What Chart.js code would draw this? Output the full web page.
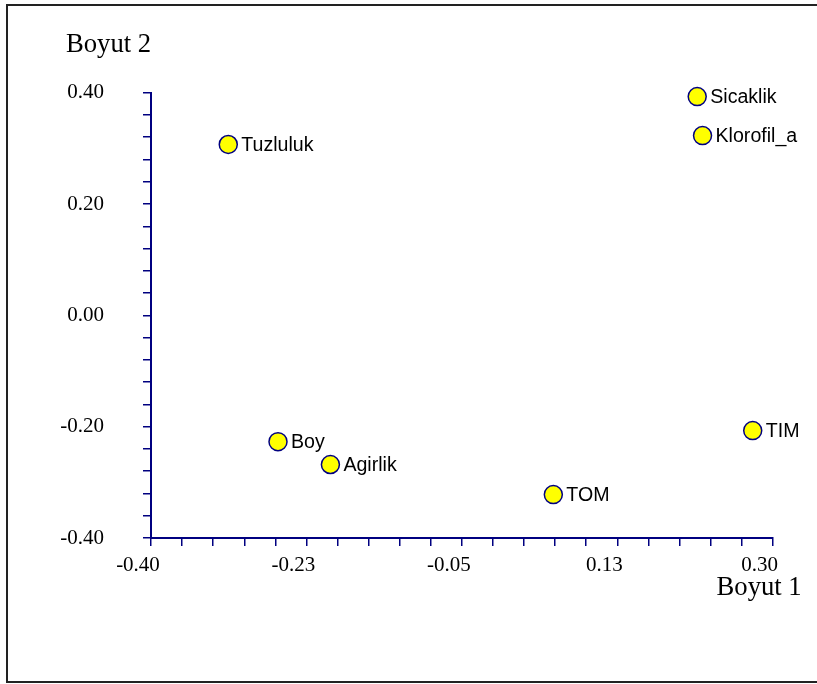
<!DOCTYPE html>
<html>
<head>
<meta charset="utf-8">
<script src="https://cdn.jsdelivr.net/npm/chart.js@4.4.1/dist/chart.umd.min.js"></script>
<style>
  html, body { margin: 0; padding: 0; background: #fff; overflow: hidden; }
  #wrap { position: relative; width: 817px; height: 684px; overflow: hidden; }
  #frame { position: absolute; left: 6px; top: 4px; width: 900px; height: 675px; border: 2px solid #222; }
  canvas { position: absolute; left: 0; top: 0; }
</style>
</head>
<body>
<div id="wrap">
  <div id="frame"></div>
  <canvas id="c" width="817" height="684"></canvas>
</div>
<script>
// ---- data ----
const variableNames = ['Tuzluluk', 'Sicaklik', 'Klorofil_a', 'TIM', 'Boy', 'Agirlik', 'TOM'];
const boyut1Values = [-0.313, 0.215, 0.221, 0.2775, -0.257, -0.198, 0.053];
const boyut2Values = [0.307, 0.393, 0.323, -0.207, -0.227, -0.268, -0.322];
const xTickLabels = ['-0.40', '-0.23', '-0.05', '0.13', '0.30'];
const yTickLabels = ['-0.40', '-0.20', '0.00', '0.20', '0.40'];
const xMin = -0.40, xMax = 0.30, yMin = -0.40, yMax = 0.40;
const minorPerMajor = 5;
const xTitle = 'Boyut 1';
const yTitle = 'Boyut 2';

const points = variableNames.map((n, i) => ({ x: boyut1Values[i], y: boyut2Values[i], label: n }));

function buildTicks(min, max, labels) {
  const n = (labels.length - 1) * minorPerMajor;
  const arr = [];
  for (let i = 0; i <= n; i++) arr.push({ value: min + (max - min) * i / n });
  return arr;
}

const AXIS_COLOR = '#000080';
const SERIF = '"Liberation Serif", "Times New Roman", serif';
const SANS = '"Liberation Sans", Arial, sans-serif';

const labelPlugin = {
  id: 'pointLabels',
  afterDatasetsDraw(chart) {
    const ctx = chart.ctx;
    const meta = chart.getDatasetMeta(0);
    ctx.save();
    ctx.font = '19.6px ' + SANS;
    ctx.fillStyle = '#000';
    ctx.textAlign = 'left';
    ctx.textBaseline = 'middle';
    meta.data.forEach((el, i) => {
      ctx.fillText(points[i].label, el.x + 13, el.y + 1);
    });
    ctx.restore();
  },
  afterDraw(chart) {
    const ctx = chart.ctx;
    const ca = chart.chartArea;
    ctx.save();
    ctx.font = '26.67px ' + SERIF;
    ctx.fillStyle = '#000';
    ctx.textBaseline = 'alphabetic';
    ctx.textAlign = 'left';
    ctx.fillText(yTitle, ca.left - 85, ca.top - 41);
    ctx.textAlign = 'right';
    ctx.fillText(xTitle, ca.right + 29, ca.bottom + 57);
    ctx.restore();
  }
};

new Chart(document.getElementById('c'), {
  type: 'scatter',
  data: {
    datasets: [{
      data: points,
      clip: false,
      pointRadius: 9,
      pointHoverRadius: 9,
      pointBackgroundColor: '#FFFF00',
      pointBorderColor: AXIS_COLOR,
      pointBorderWidth: 1.5
    }]
  },
  options: {
    responsive: false,
    animation: false,
    devicePixelRatio: 1,
    layout: { padding: { top: 92.7, right: 44.3, left: 0, bottom: 0 } },
    plugins: { legend: { display: false }, tooltip: { enabled: false } },
    scales: {
      x: {
        type: 'linear',
        min: xMin, max: xMax,
        afterBuildTicks(scale) { scale.ticks = buildTicks(xMin, xMax, xTickLabels); },
        afterFit(scale) { scale.height = 146; },
        ticks: {
          autoSkip: false,
          maxRotation: 0,
          color: '#000',
          font: { family: SERIF, size: 21 },
          padding: 7,
          labelOffset: -13,
          callback: (v, i) => (i % minorPerMajor === 0 ? xTickLabels[i / minorPerMajor] : '')
        },
        grid: { display: true, drawOnChartArea: false, drawTicks: true, tickLength: 8, color: AXIS_COLOR, lineWidth: 1.5 },
        border: { display: true, color: AXIS_COLOR, width: 2 }
      },
      y: {
        type: 'linear',
        min: yMin, max: yMax,
        afterBuildTicks(scale) { scale.ticks = buildTicks(yMin, yMax, yTickLabels); },
        afterFit(scale) { scale.width = 151; },
        ticks: {
          autoSkip: false,
          color: '#000',
          font: { family: SERIF, size: 21 },
          padding: 39,
          callback: (v, i) => (i % minorPerMajor === 0 ? yTickLabels[i / minorPerMajor] : '')
        },
        grid: { display: true, drawOnChartArea: false, drawTicks: true, tickLength: 8, color: AXIS_COLOR, lineWidth: 1.5 },
        border: { display: true, color: AXIS_COLOR, width: 2 }
      }
    }
  },
  plugins: [labelPlugin]
});
</script>
</body>
</html>
